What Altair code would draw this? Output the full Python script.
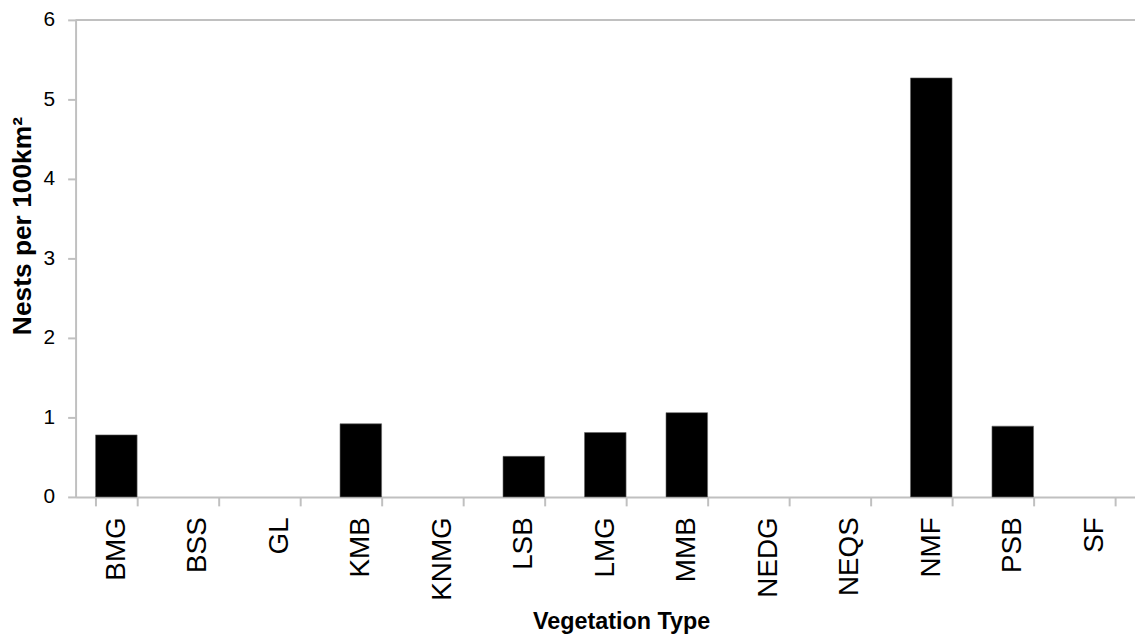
import altair as alt
import pandas as pd

categories = ["BMG", "BSS", "GL", "KMB", "KNMG", "LSB", "LMG", "MMB", "NEDG", "NEQS", "NMF", "PSB", "SF"]
nests = [0.78, 0.0, 0.0, 0.92, 0.0, 0.51, 0.81, 1.06, 0.0, 0.0, 5.27, 0.89, 0.0]
y_ticks = [0, 1, 2, 3, 4, 5, 6]

df = pd.DataFrame({"Vegetation Type": categories, "Nests": nests})
top = pd.DataFrame({"y": [6]})

FONT = "Liberation Sans"
GRAY = "#c0c0c0"

x_enc = alt.X("Vegetation Type:N", sort=categories,
              scale=alt.Scale(domain=categories, paddingInner=0.49, paddingOuter=0.245),
              axis=alt.Axis(title="Vegetation Type", labelAngle=-90, labelFontSize=28,
                            labelFont=FONT, labelColor="black", labelPadding=11,
                            labelAlign="right", labelBaseline="middle",
                            titleFont=FONT, titleFontSize=23.5, titleFontWeight="bold",
                            titleColor="black", titleX=549, titleY=132,
                            titleBaseline="alphabetic", titleAlign="center",
                            domainColor=GRAY, domainWidth=2, tickColor=GRAY, tickWidth=2,
                            tickSize=9, tickBand="extent"))

bars = alt.Chart(df).transform_filter("datum.Nests > 0").mark_bar(
    color="black", stroke="#666666", strokeWidth=0.6
).encode(
    x=x_enc,
    y=alt.Y("Nests:Q", scale=alt.Scale(domain=[0, 6], nice=False),
            axis=alt.Axis(title="Nests per 100km²", values=y_ticks, format="d",
                          labelFontSize=21, labelFont=FONT, labelColor="black",
                          labelPadding=13, grid=False,
                          titleFont=FONT, titleFontSize=26.5, titleFontWeight="bold",
                          titleColor="black", titleX=-45, titleY=207, titleAngle=270,
                          titleAlign="center", titleBaseline="alphabetic",
                          domainColor=GRAY, domainWidth=2, tickColor=GRAY, tickWidth=2,
                          tickSize=8)),
)

rule = alt.Chart(top).mark_rule(color=GRAY, strokeWidth=2).encode(y="y:Q")

chart = alt.layer(rule, bars).properties(
    width=1066, height=480,
    autosize=alt.AutoSizeParams(type="none"),
    padding={"left": 68, "top": 10, "right": 0, "bottom": 140},
).configure_view(stroke=None)

chart.save("out.html", embed_options={"renderer": "svg", "actions": False})
